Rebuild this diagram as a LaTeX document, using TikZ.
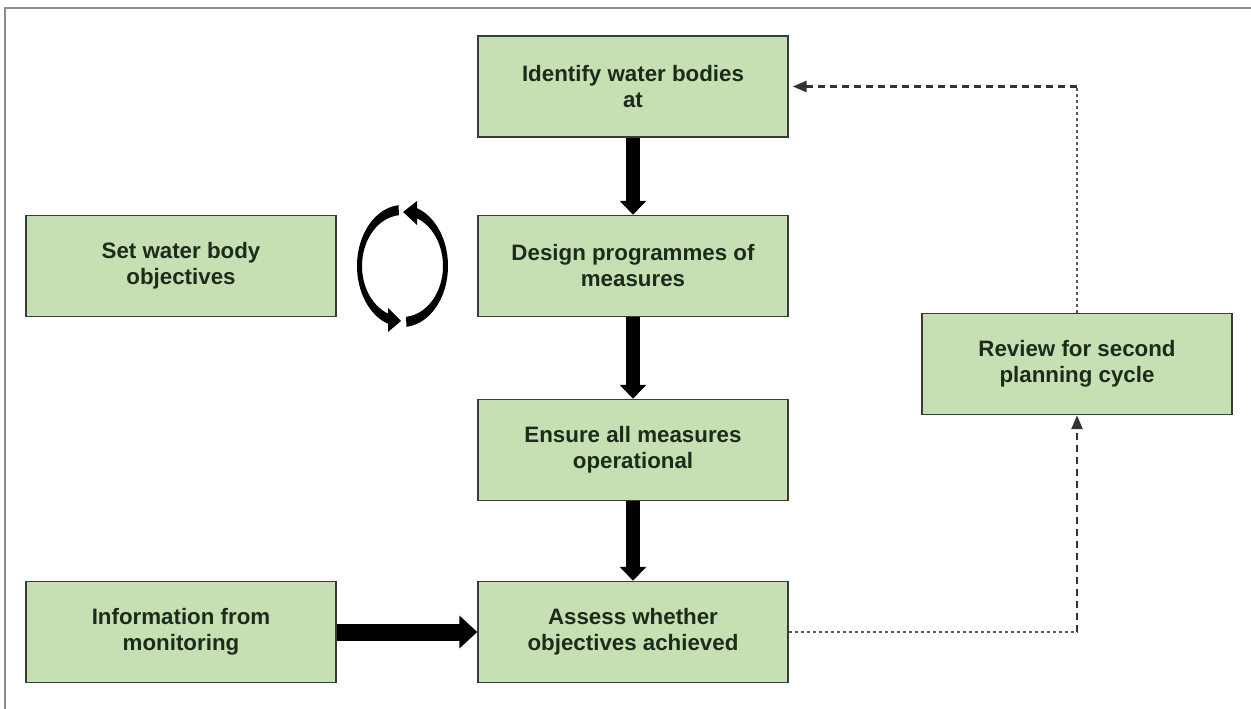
\documentclass[tikz,border=0pt]{standalone}
\usepackage{fontspec}
\setmainfont{Liberation Sans}
\usetikzlibrary{arrows.meta}
\definecolor{boxfill}{HTML}{C6E0B4}
\definecolor{boxline}{HTML}{3A3A3A}
\definecolor{boxtext}{HTML}{1E2B1B}
\definecolor{framegray}{HTML}{8C8C8C}
\tikzset{
  stepbox/.style={draw=boxline, fill=boxfill, line width=0.03cm,
    minimum width=6.2cm, minimum height=2.02cm, inner sep=0pt,
    align=center, text=boxtext,
    font=\fontsize{12.7}{14.8}\selectfont\bfseries},
  bigarrow/.style={line width=0.28cm, black,
    -{Triangle[length=0.28cm, width=0.52cm]}},
  sidearrow/.style={line width=0.34cm, black,
    -{Triangle[length=0.36cm, width=0.64cm]}},
  thindots/.style={line width=0.024cm, color=black!65,
    dash pattern=on 0.06cm off 0.06cm},
  boldash/.style={line width=0.05cm, color=black!80,
    dash pattern=on 0.14cm off 0.1cm},
  dashtip/.style={-{Triangle[length=0.28cm, width=0.22cm]}}
}
\begin{document}
\begin{tikzpicture}[x=0.02cm, y=-0.02cm]
  \useasboundingbox (0,0) rectangle (1251,709);
  % outer frame edges
  \draw[framegray, line width=0.04cm] (5,709) -- (5,8) -- (1251,8);

  % process boxes
  \node[stepbox] (id)  at (633,86.5) {Identify water bodies\\at};
  \node[stepbox] (des) at (633,266)  {Design programmes of\\measures};
  \node[stepbox] (ens) at (633,450)  {Ensure all measures\\operational};
  \node[stepbox] (ass) at (633,632)  {Assess whether\\objectives achieved};
  \node[stepbox] (set) at (181,266)  {Set water body\\objectives};
  \node[stepbox] (inf) at (181,632)  {Information from\\monitoring};
  \node[stepbox] (rev) at (1077,364) {Review for second\\planning cycle};

  % main flow
  \draw[bigarrow] (id.south) -- (des.north);
  \draw[bigarrow] (des.south) -- (ens.north);
  \draw[bigarrow] (ens.south) -- (ass.north);
  \draw[sidearrow] (inf.east) -- (ass.west);

  % feedback loop to the review and back to the start
  \coordinate (lowturn) at (ass.east -| rev.south);
  \coordinate (highturn) at (id.east -| rev.north);
  \draw[thindots] (ass.east) -- (lowturn);
  \draw[boldash, dashtip] (lowturn) -- (rev.south);
  \draw[thindots] (rev.north) -- (highturn);
  \draw[boldash, dashtip, shorten >=0.08cm] (highturn) -- (id.east);

  % iteration symbol: two curved arrows forming a ring
  \fill[black]
    plot[domain=95:251, samples=40] ({402.5+45.5*cos(\x)}, {266-61*sin(\x)})
    -- plot[domain=251:95, samples=40] ({402.5+40.5*cos(\x)}, {266-51*sin(\x)})
    -- cycle;
  \fill[black] (388,308) -- (401,321) -- (388,332) -- cycle;
  \fill[black]
    plot[domain=-85:72, samples=50] ({402.5+45.5*cos(\x)}, {266-61*sin(\x)})
    -- plot[domain=72:-85, samples=50] ({402.5+40.5*cos(\x)}, {266-51*sin(\x)})
    -- cycle;
  \fill[black] (417,201) -- (403,212) -- (417,225) -- cycle;
\end{tikzpicture}
\end{document}
